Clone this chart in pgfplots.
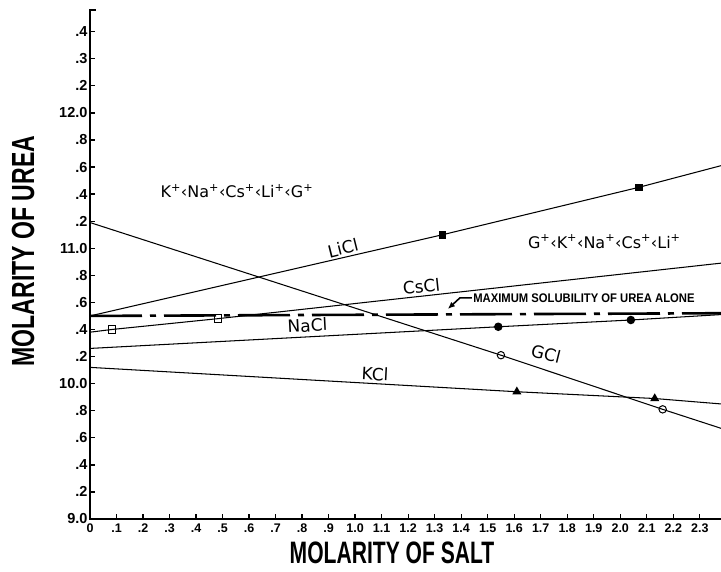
\documentclass[border=0pt]{standalone}
\usepackage{graphicx}
\usepackage{pgfplots}
\pgfplotsset{compat=1.18}
\usetikzlibrary{arrows.meta}
\usepackage{fontspec}
\setmainfont{Liberation Sans}
\newfontfamily\dejavu{DejaVu Sans}
\newcommand{\ionp}{\textsuperscript{+}}
\begin{document}
\begin{tikzpicture}[x=1pt,y=1pt]
\useasboundingbox (0,0) rectangle (721,571);
\begin{axis}[
  at={(90pt,52pt)}, anchor=south west,
  scale only axis, width=631pt, height=509pt,
  xmin=0, xmax=2.38, ymin=9, ymax=12.76,
  axis x line*=bottom, axis y line*=left,
  axis line style={draw=none},
  tick align=inside,
  major tick length=5pt,
  tick style={line width=1.3pt, black},
  xtick={0,0.1,0.2,0.3,0.4,0.5,0.6,0.7,0.8,0.9,1.0,1.1,1.2,1.3,1.4,1.5,1.6,1.7,1.8,1.9,2.0,2.1,2.2,2.3},
  xticklabels={0,.1,.2,.3,.4,.5,.6,.7,.8,.9,1.0,1.1,1.2,1.3,1.4,1.5,1.6,1.7,1.8,1.9,2.0,2.1,2.2,2.3},
  ytick={9,9.2,9.4,9.6,9.8,10,10.2,10.4,10.6,10.8,11,11.2,11.4,11.6,11.8,12,12.2,12.4,12.6},
  yticklabels={9.0,.2,.4,.6,.8,10.0,.2,.4,.6,.8,11.0,.2,.4,.6,.8,12.0,.2,.3,.4},
  xticklabel style={font=\bfseries\fontsize{12.5}{12.5}\selectfont, yshift=-1pt},
  yticklabel style={font=\bfseries\fontsize{14.5}{14.5}\selectfont, xshift=1pt},
  xlabel={\scalebox{0.68}[1]{\bfseries\fontsize{31}{31}\selectfont MOLARITY OF SALT}},
  xlabel style={at={(axis description cs:0.4786,-0.067)}, anchor=center, inner sep=0pt},
  ylabel={\scalebox{0.72}[1]{\bfseries\fontsize{32}{32}\selectfont MOLARITY OF UREA}},
  ylabel style={at={(axis description cs:-0.106,0.5265)}, anchor=center, inner sep=0pt},
  clip mode=individual,
]
% Maximum solubility of urea alone
\addplot[black, line width=2.6pt, dash pattern=on 52pt off 8pt on 6pt off 8pt] coordinates {(0,10.50) (2.38,10.52)};
% LiCl
\addplot[black, line width=1.05pt, mark=square*, mark size=3.3pt, mark indices={2,3}] coordinates {(0,10.50) (1.33,11.10) (2.07,11.45) (2.38,11.61)};
% CsCl
\addplot[black, line width=1.05pt, mark=square, mark size=3.7pt, mark options={fill=white, line width=1pt}, mark indices={2,3}] coordinates {(0,10.38) (0.083,10.40) (0.483,10.48) (2.38,10.89)};
% NaCl
\addplot[black, line width=1.05pt, mark=*, mark size=3.7pt, mark indices={2,3}] coordinates {(0,10.26) (1.54,10.42) (2.04,10.47) (2.38,10.51)};
% KCl
\addplot[black, line width=1.05pt, mark=triangle*, mark size=4.2pt, mark indices={2,3}] coordinates {(0,10.12) (1.61,9.94) (2.13,9.89) (2.38,9.85)};
% GCl
\addplot[black, line width=1.05pt, mark=o, mark size=3.7pt, mark options={fill=white, line width=1pt}, mark indices={2,3}] coordinates {(0,11.19) (1.55,10.21) (2.16,9.81) (2.38,9.67)};

\draw[line width=1.8pt, line cap=rect] (rel axis cs:0,1) -- (rel axis cs:0,0) -- (rel axis cs:1,0);
\draw[line width=1.6pt] (rel axis cs:0,1) -- ([xshift=6pt]rel axis cs:0,1);

\node[font=\dejavu\fontsize{16}{16}\selectfont] at (axis cs:0.554,11.42) {K\ionp‹Na\ionp‹Cs\ionp‹Li\ionp‹G\ionp};
\node[font=\dejavu\fontsize{16}{16}\selectfont] at (axis cs:1.94,11.05) {G\ionp‹K\ionp‹Na\ionp‹Cs\ionp‹Li\ionp};
\node[font=\dejavu\fontsize{17}{17}\selectfont, rotate=14, inner sep=1pt] at (axis cs:0.954,11.0) {LiCl};
\node[font=\dejavu\fontsize{17}{17}\selectfont, rotate=6, inner sep=1pt] at (axis cs:1.25,10.72) {CsCl};
\node[font=\dejavu\fontsize{17}{17}\selectfont, rotate=3, inner sep=1pt] at (axis cs:0.82,10.43) {NaCl};
\node[font=\dejavu\fontsize{17}{17}\selectfont, rotate=-3, inner sep=1pt] at (axis cs:1.075,10.07) {KCl};
\node[font=\dejavu\fontsize{17}{17}\selectfont, rotate=-14, inner sep=1pt] at (axis cs:1.72,10.22) {GCl};
\node[anchor=west, inner sep=0pt] at (axis cs:1.445,10.633) {\scalebox{0.9}[1]{\bfseries\fontsize{12.5}{12.5}\selectfont MAXIMUM SOLUBILITY OF UREA ALONE}};
\draw[line width=1.6pt, -{Latex[length=7pt,width=6pt]}] (axis cs:1.44,10.633) -- (axis cs:1.395,10.633) -- (axis cs:1.35,10.552);
\end{axis}
\end{tikzpicture}
\end{document}
